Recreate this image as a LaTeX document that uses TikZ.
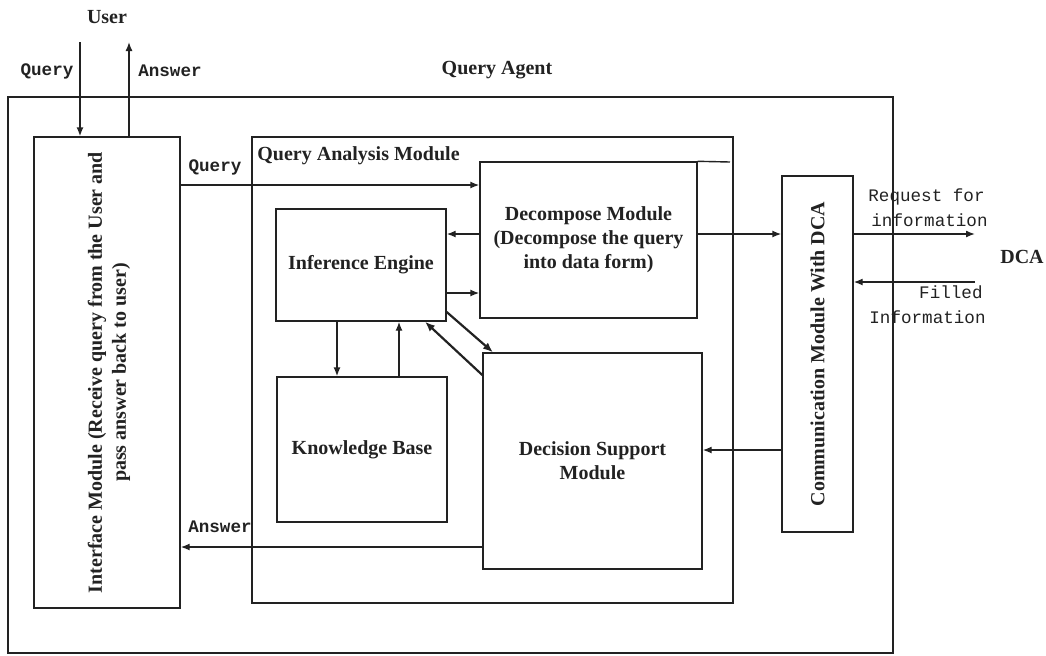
\documentclass[tikz,border=0pt]{standalone}
\usepackage{fontspec}
\setmainfont{Liberation Serif}
\newfontfamily\monofont{Liberation Mono}
\usetikzlibrary{arrows.meta}
\definecolor{ink}{HTML}{222222}
\begin{document}
\begin{tikzpicture}[x=0.5pt,y=-0.5pt,
  every node/.style={text=ink},
  box/.style={draw=ink, line width=0.7pt, inner sep=0pt},
  title/.style={font=\bfseries\fontsize{10}{12}\selectfont, align=center, text=ink},
  tag/.style={font=\monofont\bfseries\fontsize{8.8}{10}\selectfont, inner sep=0pt},
  note/.style={font=\monofont\fontsize{8.8}{12.5}\selectfont, inner sep=0pt},
  arr/.style={draw=ink, line width=0.7pt, -{Latex[length=4.5pt,width=3.5pt]}},
  heavyarr/.style={draw=ink, line width=1.1pt, -{Latex[length=5pt,width=4pt]}},
  wire/.style={draw=ink, line width=0.7pt}]
\useasboundingbox (0,0) rectangle (1046,655);

% frames
\node[box, minimum width=442.5pt, minimum height=278pt] (agent) at (450.5,375) {};
\node[box, minimum width=73pt, minimum height=235.5pt] (iface) at (107,372.5) {};
\node[box, minimum width=240.5pt, minimum height=233pt] (qam) at (492.5,370) {};
\node[box, minimum width=108.5pt, minimum height=78pt] (dec) at (588.5,240) {};
\node[box, minimum width=85pt, minimum height=56pt] (inf) at (361,265) {};
\node[box, minimum width=85pt, minimum height=72.5pt] (kb) at (362,449.5) {};
\node[box, minimum width=109.5pt, minimum height=108pt] (dsm) at (592.5,461) {};
\node[box, minimum width=35.5pt, minimum height=178pt] (comm) at (817.5,354) {};

% box texts
\node[title, rotate=90] (ifacetxt) at ([xshift=1pt]iface.center) {Interface Module (Receive query from the User and\\pass answer back to user)};
\node[title, rotate=90] (commtxt) at (comm.center) {Communication Module With DCA};
\node[title] (dectxt) at (dec.center) {Decompose Module\\(Decompose the query\\into data form)};
\node[title] (inftxt) at (inf.center) {Inference Engine};
\node[title] (kbtxt) at (kb.center) {Knowledge Base};
\node[title] (dsmtxt) at (dsm.center) {Decision Support\\Module};
\node[title, anchor=west, inner sep=0pt] (qamtxt) at (257,156) {Query Analysis Module};
\node[title] (agenttxt) at (497,70) {Query Agent};
\node[title] (user) at (107,17) {User};
\node[title] (dca) at (1022,257) {DCA};

% top edge of the decompose block continues to the right
\coordinate (decrule) at (730,162);
\draw[wire] (dec.north east) -- (decrule);

% user side
\coordinate (uq) at (80,42);
\coordinate (ua) at (129,42);
\draw[arr] (uq) -- (uq |- iface.north);
\draw[arr] (ua |- iface.north) -- (ua);
\node[tag] (uqlbl) at (47,71) {Query};
\node[tag] (ualbl) at (170,71) {Answer};

% query / answer through the analysis module
\draw[arr] (iface.east |- 0,185) -- (dec.west |- 0,185);
\node[tag] (qlbl) at (215,167) {Query};
\draw[arr] (dsm.west |- 0,547) -- (iface.east |- 0,547);
\node[tag] (albl) at (220,527) {Answer};

% decompose <-> inference
\draw[arr] (dec.west |- 0,234) -- (inf.east |- 0,234);
\draw[arr] (inf.east |- 0,293) -- (dec.west |- 0,293);

% inference <-> knowledge base
\draw[arr] (337,0 |- inf.south) -- (337,0 |- kb.north);
\draw[arr] (399,0 |- kb.north) -- (399,0 |- inf.south);

% inference <-> decision support
\draw[heavyarr] (inf.east |- 0,312) -- (493,0 |- dsm.north);
\draw[heavyarr] (dsm.west |- 0,375) -- (425,0 |- inf.south);

% communication module
\draw[arr] (dec.east |- 0,234) -- (comm.west |- 0,234);
\draw[arr] (comm.west |- 0,450) -- (dsm.east |- 0,450);
\coordinate (dcaout) at (975,234);
\coordinate (dcain) at (975,282);
\draw[arr] (comm.east |- dcaout) -- (dcaout);
\draw[arr] (dcain) -- (comm.east |- dcain);
\node[note, anchor=west] (req1) at (868,197) {Request for};
\node[note, anchor=west] (req2) at (871,220) {information};
\node[note, anchor=east] (fill1) at (983,292) {Filled};
\node[note, anchor=east] (fill2) at (986,317) {Information};
\end{tikzpicture}
\end{document}
